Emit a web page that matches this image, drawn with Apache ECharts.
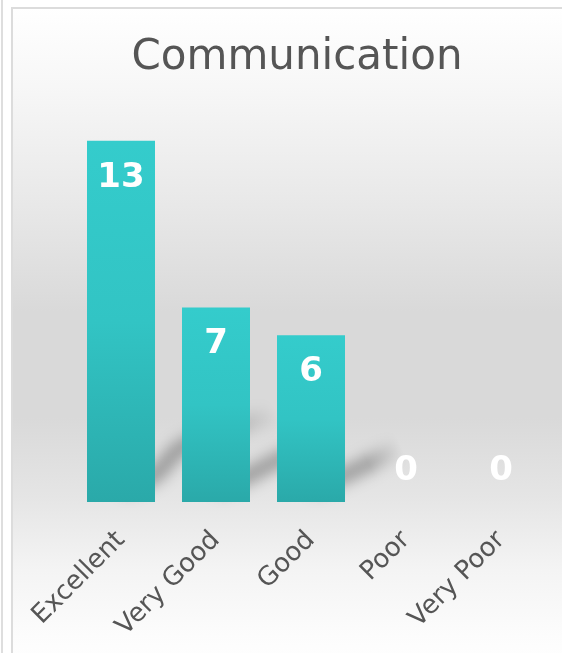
<!DOCTYPE html>
<html>
<head>
<meta charset="utf-8">
<script src="https://cdn.jsdelivr.net/npm/echarts@6/dist/echarts.min.js"></script>
<style>
html,body{margin:0;padding:0;background:#fff;}
#chart{width:562px;height:653px;}
</style>
</head>
<body>
<div id="chart"></div>
<script>
// ---- data ----
var chartTitle = 'Communication';
var categories = ['Excellent', 'Very Good', 'Good', 'Poor', 'Very Poor'];
var values = [13, 7, 6, 0, 0];
var yMin = 0;
var yMax = 14;

// ---- styles ----
var FONT = '"DejaVu Sans", Verdana, sans-serif';
var BAR_W = 68;
var OFF = 3000;

var chart = echarts.init(document.getElementById('chart'), null, {renderer: 'canvas'});

var barData = values.map(function (v) {
  return {
    value: v,
    label: v === 0 ? {position: 'top', distance: 14} : {position: 'insideTop', distance: 20}
  };
});

function renderShadow(params, api) {
  var v = api.value(1);
  if (!v) return null;
  var top = api.coord([api.value(0), v]);
  var base = api.coord([api.value(0), 0]);
  var h = base[1] - top[1];
  var xr = base[0] + BAR_W / 2;
  var yb = base[1];
  var s = h / 350;
  var pts = [
    [xr - 28, yb - 16],
    [xr, yb - 27],
    [xr + 0.075 * h, yb - 27 - 0.075 * h * s],
    [xr + 0.34 * h, yb - 27 - 0.17 * h]
  ];
  var shifted = pts.map(function (p) { return [p[0] - OFF, p[1]]; });
  var a = shifted[0], e = shifted[shifted.length - 1];
  return {
    type: 'polyline',
    shape: {points: shifted, smooth: 0.3},
    style: {
      fill: null,
      stroke: {type: 'linear', x: a[0], y: a[1], x2: e[0], y2: e[1], global: true, colorStops: [
        {offset: 0, color: 'rgba(0,0,0,1)'},
        {offset: 0.6, color: 'rgba(0,0,0,0.9)'},
        {offset: 1, color: 'rgba(0,0,0,0)'}
      ]},
      lineWidth: 14,
      lineCap: 'round',
      lineJoin: 'round',
      shadowBlur: 15,
      shadowOffsetX: OFF,
      shadowOffsetY: 0,
      shadowColor: 'rgba(0,0,0,0.38)'
    }
  };
}

var option = {
  backgroundColor: '#ffffff',
  animation: false,
  graphic: [
    {type: 'rect', z: -10, silent: true, shape: {x: 1, y: 0, width: 2, height: 653}, style: {fill: '#dedede'}},
    {type: 'rect', z: -10, silent: true,
      shape: {x: 12, y: 8, width: 560, height: 660},
      style: {
        stroke: '#dcdcdc', lineWidth: 2,
        fill: {type: 'linear', x: 0, y: 0, x2: 0, y2: 1, colorStops: [
          {offset: 0, color: '#ffffff'},
          {offset: 0.12, color: '#f7f7f7'},
          {offset: 0.3, color: '#e8e8e8'},
          {offset: 0.46, color: '#d9d9d9'},
          {offset: 0.62, color: '#d9d9d9'},
          {offset: 0.74, color: '#e5e5e5'},
          {offset: 0.85, color: '#f4f4f4'},
          {offset: 0.95, color: '#fcfcfc'},
          {offset: 1, color: '#ffffff'}
        ]}
      }
    }
  ],
  title: {
    text: chartTitle,
    left: 292,
    top: 32,
    textAlign: 'center',
    textStyle: {fontFamily: FONT, fontSize: 42, fontWeight: 'normal', color: '#555555'}
  },
  grid: {left: 73.5, right: 13.5, top: 113, bottom: 151, containLabel: false},
  xAxis: {
    type: 'category',
    data: categories,
    axisLine: {show: false},
    axisTick: {show: false},
    axisLabel: {rotate: 45, margin: 34, fontFamily: FONT, fontSize: 26, color: '#555555', interval: 0}
  },
  yAxis: {
    type: 'value', min: yMin, max: yMax, show: false,
    splitLine: {show: false}
  },
  series: [
    {
      type: 'custom',
      renderItem: renderShadow,
      data: values.map(function (v, i) { return [i, v]; }),
      z: 1,
      clip: false,
      silent: true
    },
    {
      type: 'bar',
      data: barData,
      barWidth: BAR_W,
      z: 2,
      itemStyle: {
        color: {type: 'linear', x: 0, y: 0, x2: 0, y2: 1, colorStops: [
          {offset: 0, color: '#34cccc'},
          {offset: 0.5, color: '#32c4c4'},
          {offset: 1, color: '#2aa9a9'}
        ]}
      },
      label: {
        show: true,
        color: '#ffffff',
        fontFamily: FONT,
        fontSize: 34,
        fontWeight: 'bold'
      }
    }
  ]
};
chart.setOption(option);
</script>
</body>
</html>
